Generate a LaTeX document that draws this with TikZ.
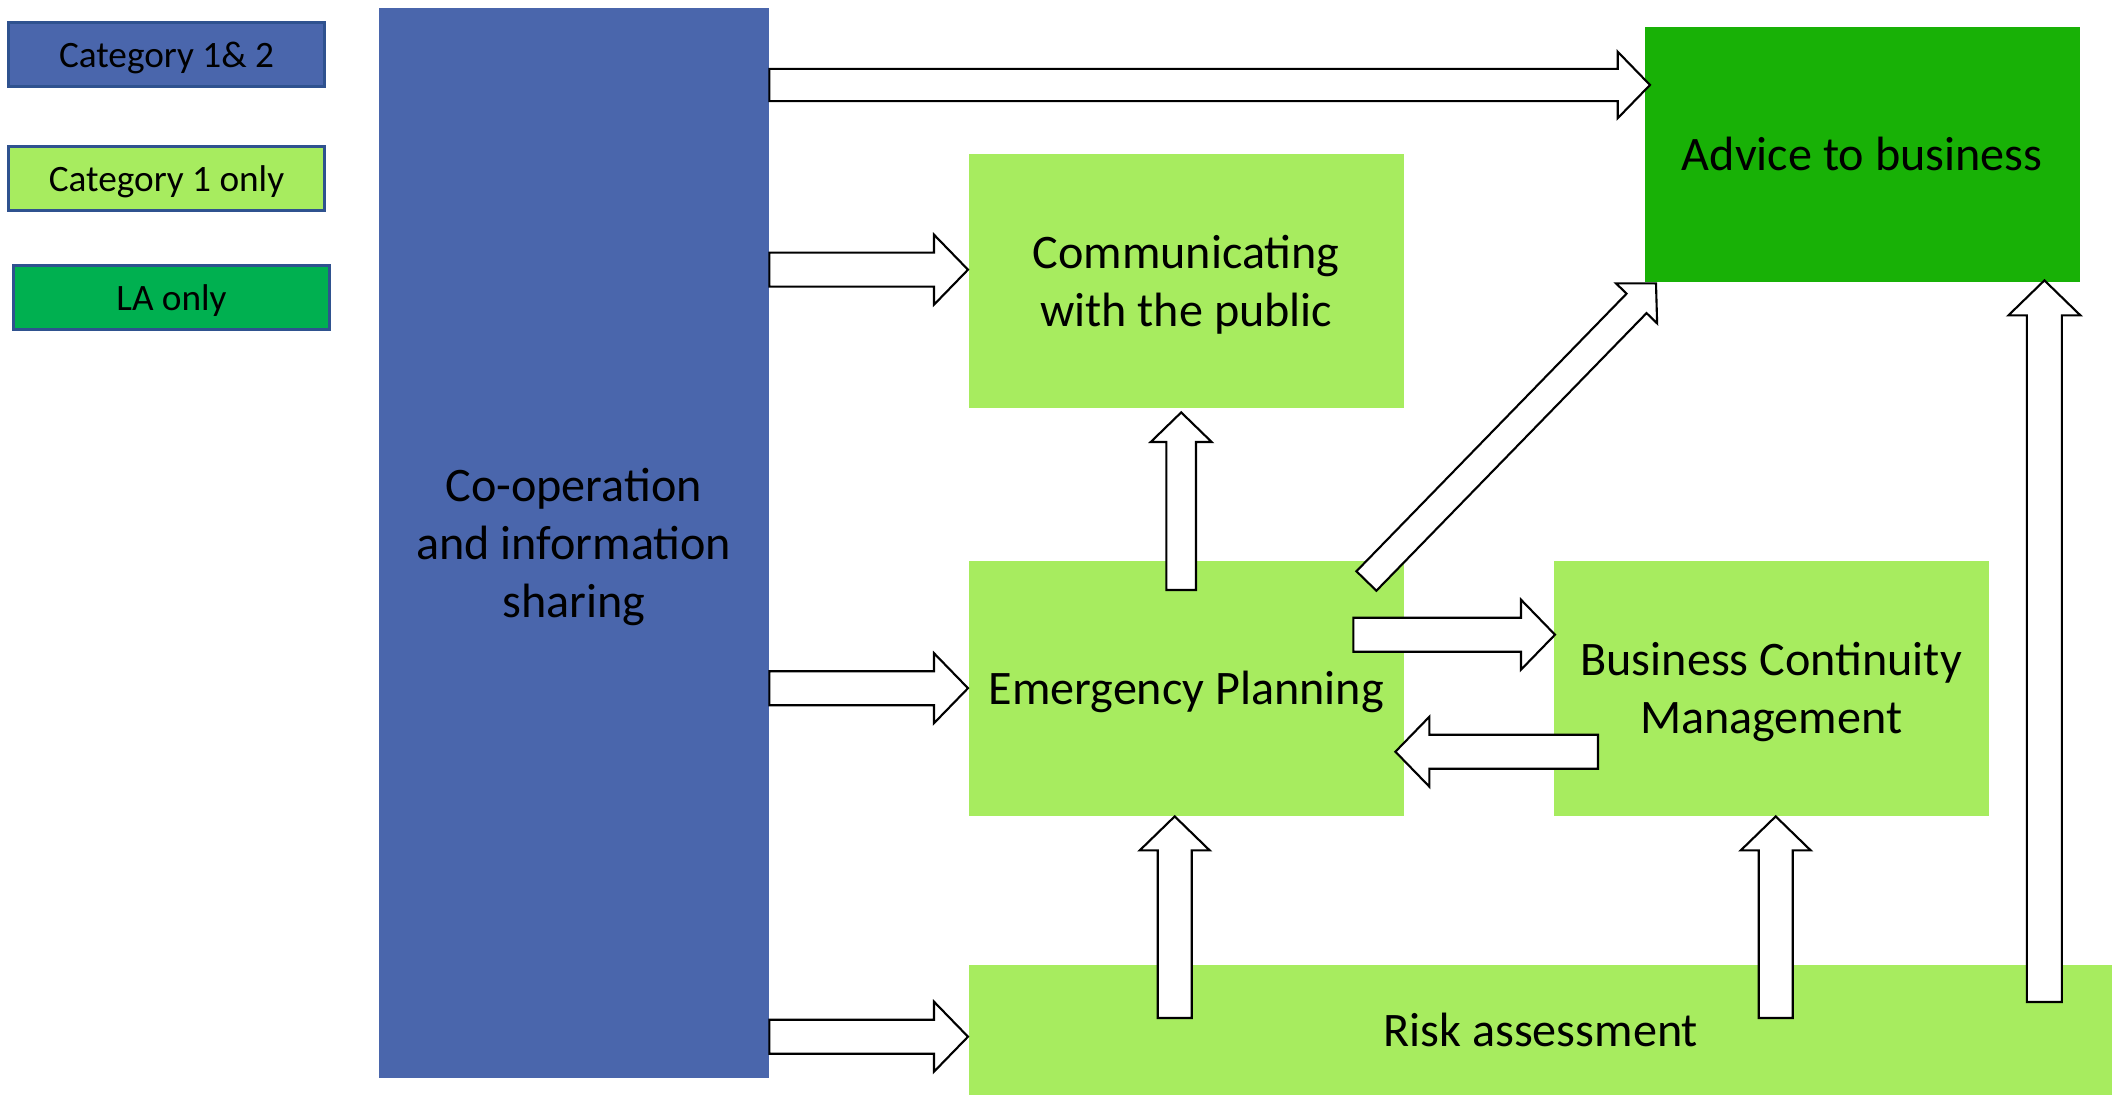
\documentclass[tikz,border=0pt]{standalone}
\usepackage{fontspec}
\setmainfont{Carlito}
\usepackage{tikz}
\usetikzlibrary{calc}

\definecolor{coopblue}{HTML}{4A66AC}
\definecolor{catgreen}{HTML}{A7EC5F}
\definecolor{advgreen}{HTML}{18B106}
\definecolor{lagreen}{HTML}{00B050}
\definecolor{legborder}{HTML}{2F528F}

% block arrow from #2 to #3, #1 scales the widths
\newcommand{\fatarrow}[3][1]{%
  \pgfmathsetmacro{\fasw}{0.17*#1}%
  \pgfmathsetmacro{\fahw}{0.35*#1}%
  \pgfmathsetmacro{\fahl}{0.34*#1}%
  \coordinate (fa-s) at (#2);
  \coordinate (fa-e) at (#3);
  \coordinate (fa-b) at ($(fa-e)!\fahl cm!(fa-s)$);
  \draw[fatarr] ($(fa-s)!\fasw cm!90:(fa-e)$) -- ($(fa-b)!\fasw cm!90:(fa-e)$)
    -- ($(fa-b)!\fahw cm!90:(fa-e)$) -- (fa-e) -- ($(fa-b)!\fahw cm!-90:(fa-e)$)
    -- ($(fa-b)!\fasw cm!-90:(fa-e)$) -- ($(fa-s)!\fasw cm!-90:(fa-e)$) -- cycle;
}

\begin{document}
\begin{tikzpicture}[
    box/.style={anchor=north west, inner sep=0pt, align=center, text depth=0pt,
      font=\fontsize{13.7}{16.5}\selectfont},
    legend/.style={anchor=north west, inner sep=0pt, draw=legborder, line width=0.85pt,
      minimum width=3.16cm, minimum height=0.64cm, text depth=0pt,
      font=\fontsize{10.6}{12.7}\selectfont},
    fatarr/.style={draw=black, fill=white, line width=0.6pt, line join=miter}]
  \useasboundingbox (0,0) rectangle (21.12,-10.95);

  % legend
  \node[legend, fill=coopblue] (cat12) at (0.07,-0.21) {Category 1\& 2};
  \node[legend, fill=catgreen] (cat1) at (0.07,-1.45) {Category 1 only};
  \node[legend, fill=lagreen] (la) at (0.12,-2.64) {LA only};

  % boxes
  \node[box, fill=coopblue, minimum width=3.90cm, minimum height=10.70cm] (coop) at (3.78,-0.07)
    {Co-operation\\and information\\sharing};
  \node[box, fill=catgreen, minimum width=4.35cm, minimum height=2.54cm] (comm) at (9.68,-1.53)
    {Communicating\\with the public};
  \node[box, fill=advgreen, minimum width=4.35cm, minimum height=2.55cm] (advice) at (16.44,-0.26)
    {Advice to business};
  \node[box, fill=catgreen, minimum width=4.35cm, minimum height=2.55cm] (emerg) at (9.68,-5.60)
    {Emergency Planning};
  \node[box, fill=catgreen, minimum width=4.35cm, minimum height=2.55cm] (bcm) at (15.53,-5.60)
    {Business Continuity\\Management};
  \node[box, fill=catgreen, minimum width=11.44cm, minimum height=1.31cm] (risk) at (9.68,-9.64)
    {Risk assessment};

  % arrows
  \fatarrow[0.95]{$(coop.north east)+(0,-0.78)$}{$(advice.north west)+(0.06,-0.59)$}
  \fatarrow{$(coop.east |- comm.west)+(0,0.11)$}{$(comm.west)+(0,0.11)$}
  \fatarrow{coop.east |- emerg.west}{emerg.west}
  \fatarrow{$(coop.east |- risk.west)+(0,-0.065)$}{$(risk.west)+(0,-0.065)$}
  \fatarrow[0.87]{$(emerg.north)+(-0.05,-0.30)$}{$(comm.south)+(-0.05,-0.04)$}
  \fatarrow[0.82]{$(emerg.north east)+(-0.38,-0.21)$}{$(advice.south west)+(0.12,-0.01)$}
  \fatarrow{$(emerg.east)+(-0.51,0.535)$}{$(bcm.west)+(0.02,0.535)$}
  \fatarrow{$(bcm.west)+(0.45,-0.635)$}{$(emerg.east)+(-0.09,-0.635)$}
  \fatarrow{$(risk.north -| emerg.south)+(-0.115,-0.54)$}{$(emerg.south)+(-0.115,0)$}
  \fatarrow{$(risk.north -| bcm.south)+(0.045,-0.54)$}{$(bcm.south)+(0.045,0)$}
  \fatarrow[1.03]{$(risk.north -| advice.south east)+(-0.36,-0.38)$}{$(advice.south east)+(-0.36,0.02)$}
\end{tikzpicture}
\end{document}
